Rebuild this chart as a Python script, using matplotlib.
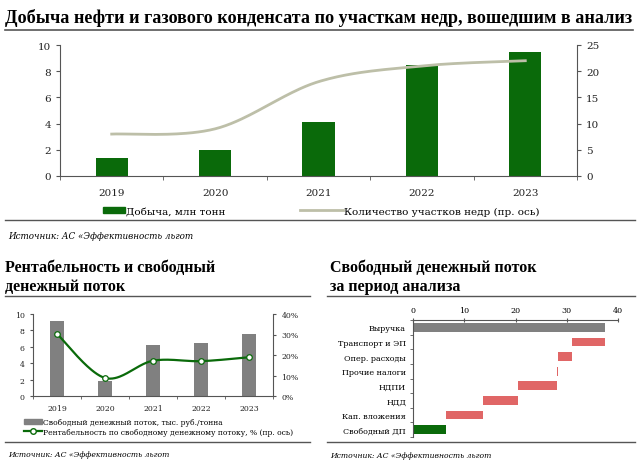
import numpy as np
import matplotlib
matplotlib.use("Agg")
import matplotlib.pyplot as plt
from matplotlib.lines import Line2D
from matplotlib.patches import Patch

# --- data ---
years = ["2019", "2020", "2021", "2022", "2023"]
production = [1.35, 2.0, 4.1, 8.45, 9.45]          # млн тонн
fields_count = [8, 9, 18, 21, 22]                   # участков (пр. ось)

fcf_per_ton = [9.1, 1.8, 6.2, 6.45, 7.6]            # тыс. руб./тонна
fcf_margin = [30.3, 8.8, 17.2, 17.0, 18.9]          # %

wf_labels = ["Выручка", "Транспорт и ЭП", "Опер. расходы", "Прочие налоги",
             "НДПИ", "НДД", "Кап. вложения", "Свободный ДП"]
wf_values = [37.5, 6.4, 2.8, 0.3, 7.5, 6.75, 7.25, 6.5]

W, H = 639, 464
SERIF = "DejaVu Serif"
TITLE = "Liberation Serif"
GREEN = "#0A6A0A"
GREY = "#808080"
RED = "#E06666"
LINE_C = "#BDBFA8"
SPINE = "#555555"


def rect(x0, y0, x1, y1):
    return [x0 / W, 1 - y1 / H, (x1 - x0) / W, (y1 - y0) / H]


def hline(fig, x0, x1, y, lw=1.0):
    fig.add_artist(Line2D([x0 / W, x1 / W], [1 - y / H, 1 - y / H],
                          color=SPINE, lw=lw, transform=fig.transFigure))


def smooth(x, y, n=40):
    # excel-like smoothed line through the data points
    pts = np.column_stack([x, y]).astype(float)
    P = np.vstack([pts[0], pts, pts[-1]])
    out = []
    for i in range(len(pts) - 1):
        p0, p1, p2, p3 = P[i], P[i + 1], P[i + 2], P[i + 3]
        c1 = p1 + (p2 - p0) / 6
        c2 = p2 - (p3 - p1) / 6
        t = np.linspace(0, 1, n)[:, None]
        seg = (1 - t) ** 3 * p1 + 3 * (1 - t) ** 2 * t * c1 + 3 * (1 - t) * t ** 2 * c2 + t ** 3 * p2
        out.append(seg)
    s = np.vstack(out)
    return s[:, 0], s[:, 1]


def style_ax(ax, fs, left=True, right=False):
    for s in ax.spines.values():
        s.set_color(SPINE)
        s.set_linewidth(0.8)
    ax.spines["top"].set_visible(False)
    ax.spines["right"].set_visible(right)
    ax.spines["left"].set_visible(left)
    ax.tick_params(labelsize=fs, colors="#222222", color=SPINE, width=0.8, length=3)
    for lab in ax.get_xticklabels() + ax.get_yticklabels():
        lab.set_family(SERIF)


fig = plt.figure(figsize=(W / 100, H / 100), dpi=100)

# ---------------- top chart ----------------
fig.text(5 / W, 1 - 18 / H, "Добыча нефти и газового конденсата по участкам недр, вошедшим в анализ",
         family=TITLE, weight="bold", fontsize=13.1, va="center", ha="left")
hline(fig, 5, 633, 31, lw=1.2)

x = np.arange(len(years))
ax1 = fig.add_axes(rect(60, 46, 577, 177))
ax1.bar(x, production, width=0.31, color=GREEN, zorder=2)
ax1.set_xlim(-0.5, 4.5)
ax1.set_ylim(0, 10)
ax1.set_yticks([0, 2, 4, 6, 8, 10])
ax1.set_xticks(x)
ax1.set_xticklabels(years)
ax1.set_xticks(np.arange(-0.5, 5, 1), minor=True)
style_ax(ax1, 7.5)
ax1.tick_params(axis="x", which="major", length=0, pad=9)
ax1.tick_params(axis="x", which="minor", length=3, color=SPINE)

ax1r = ax1.twinx()
sx, sy = smooth(x, fields_count)
ax1r.plot(sx, sy, color=LINE_C, lw=2, zorder=3)
ax1r.set_ylim(0, 25)
ax1r.set_yticks([0, 5, 10, 15, 20, 25])
style_ax(ax1r, 7.5, left=False, right=True)
ax1r.spines["bottom"].set_visible(False)

leg_prop = {"family": SERIF, "size": 7.5}
fig.legend(handles=[Patch(color=GREEN, label="Добыча, млн тонн")],
           loc="center left", bbox_to_anchor=(103 / W, 1 - 212 / H), frameon=False, prop=leg_prop,
           handlelength=2.1, handleheight=0.6, handletextpad=0.15, borderpad=0, borderaxespad=0)
fig.legend(handles=[Line2D([], [], color=LINE_C, lw=2, label="Количество участков недр (пр. ось)")],
           loc="center left", bbox_to_anchor=(300 / W, 1 - 212 / H), frameon=False, prop=leg_prop,
           handlelength=4.1, handletextpad=0.15, borderpad=0, borderaxespad=0)
hline(fig, 5, 635, 221)
fig.text(8 / W, 1 - 237 / H, "Источник: АС «Эффективность льгот", family=SERIF, style="italic",
         fontsize=6.3, va="center", ha="left")

# ---------------- bottom left ----------------
fig.text(5 / W, 1 - 268 / H, "Рентабельность и свободный", family=TITLE, weight="bold",
         fontsize=11.5, va="center", ha="left")
fig.text(5 / W, 1 - 287 / H, "денежный поток", family=TITLE, weight="bold",
         fontsize=11.5, va="center", ha="left")
hline(fig, 5, 310, 297)

ax2 = fig.add_axes(rect(33, 315, 273, 397))
ax2.bar(x, fcf_per_ton, width=0.3, color=GREY, zorder=2)
ax2.set_xlim(-0.5, 4.5)
ax2.set_ylim(0, 10)
ax2.set_yticks([0, 2, 4, 6, 8, 10])
ax2.set_xticks(x)
ax2.set_xticklabels(years)
ax2.set_xticks(np.arange(-0.5, 5, 1), minor=True)
style_ax(ax2, 5.6)
ax2.tick_params(axis="x", which="major", length=0, pad=6)
ax2.tick_params(axis="x", which="minor", length=2.5, color=SPINE)
ax2.tick_params(axis="y", length=2.5)

ax2r = ax2.twinx()
sx, sy = smooth(x, fcf_margin)
ax2r.plot(sx, sy, color=GREEN, lw=1.6, zorder=3)
ax2r.plot(x, fcf_margin, "o", ms=4, mfc="white", mec=GREEN, mew=0.9, zorder=4)
ax2r.set_ylim(0, 40)
ax2r.set_yticks([0, 10, 20, 30, 40])
ax2r.set_yticklabels([f"{v}%" for v in [0, 10, 20, 30, 40]])
style_ax(ax2r, 5.6, left=False, right=True)
ax2r.spines["bottom"].set_visible(False)
ax2r.tick_params(axis="y", length=2.5)

small_prop = {"family": SERIF, "size": 5.5}
fig.legend(handles=[Patch(color=GREY, label="Свободный денежный поток, тыс. руб./тонна")],
           loc="center left", bbox_to_anchor=(24 / W, 1 - 423 / H), frameon=False, prop=small_prop,
           handlelength=2.3, handleheight=0.7, handletextpad=0.2, borderpad=0, borderaxespad=0)
fig.legend(handles=[Line2D([], [], color=GREEN, lw=1.6, marker="o", ms=4, mfc="white", mec=GREEN,
                           label="Рентабельность по свободному денежному потоку, % (пр. ось)")],
           loc="center left", bbox_to_anchor=(24 / W, 1 - 433 / H), frameon=False, prop=small_prop,
           handlelength=2.3, handletextpad=0.2, borderpad=0, borderaxespad=0)
hline(fig, 5, 310, 443)
fig.text(8 / W, 1 - 455 / H, "Источник: АС «Эффективность льгот", family=SERIF, style="italic",
         fontsize=5.5, va="center", ha="left")

# ---------------- bottom right: waterfall ----------------
fig.text(330 / W, 1 - 268 / H, "Свободный денежный поток", family=TITLE, weight="bold",
         fontsize=11.5, va="center", ha="left")
fig.text(330 / W, 1 - 287 / H, "за период анализа", family=TITLE, weight="bold",
         fontsize=11.5, va="center", ha="left")
hline(fig, 327, 635, 297)

ax3 = fig.add_axes(rect(413, 321, 618, 438))
n = len(wf_labels)
lefts = []
colors = []
level = 0
for i, v in enumerate(wf_values):
    if i == 0:
        lefts.append(0)
        colors.append(GREY)
        level = v
    elif i == n - 1:
        lefts.append(0)
        colors.append(GREEN)
    else:
        level -= v
        lefts.append(level)
        colors.append(RED)
yy = np.arange(n)
ax3.barh(yy, wf_values, left=lefts, height=0.6, color=colors, zorder=2)
ax3.set_ylim(n - 0.5, -0.5)
ax3.set_xlim(0, 40)
ax3.set_xticks([0, 10, 20, 30, 40])
ax3.set_yticks(yy)
ax3.set_yticklabels(wf_labels)
ax3.set_yticks(np.arange(-0.5, n, 1), minor=True)
for s in ax3.spines.values():
    s.set_color(SPINE)
    s.set_linewidth(0.8)
ax3.spines["bottom"].set_visible(False)
ax3.spines["right"].set_visible(False)
ax3.xaxis.tick_top()
ax3.tick_params(axis="x", labelsize=5.8, direction="inout", length=3, color=SPINE, pad=3)
ax3.tick_params(axis="y", which="major", length=0, labelsize=5.8, pad=5)
ax3.tick_params(axis="y", which="minor", length=2.5, color=SPINE)
for lab in ax3.get_xticklabels() + ax3.get_yticklabels():
    lab.set_family(SERIF)
hline(fig, 327, 635, 443)
fig.text(330 / W, 1 - 456 / H, "Источник: АС «Эффективность льгот", family=SERIF, style="italic",
         fontsize=5.5, va="center", ha="left")

fig.savefig("out.png", dpi=100)
